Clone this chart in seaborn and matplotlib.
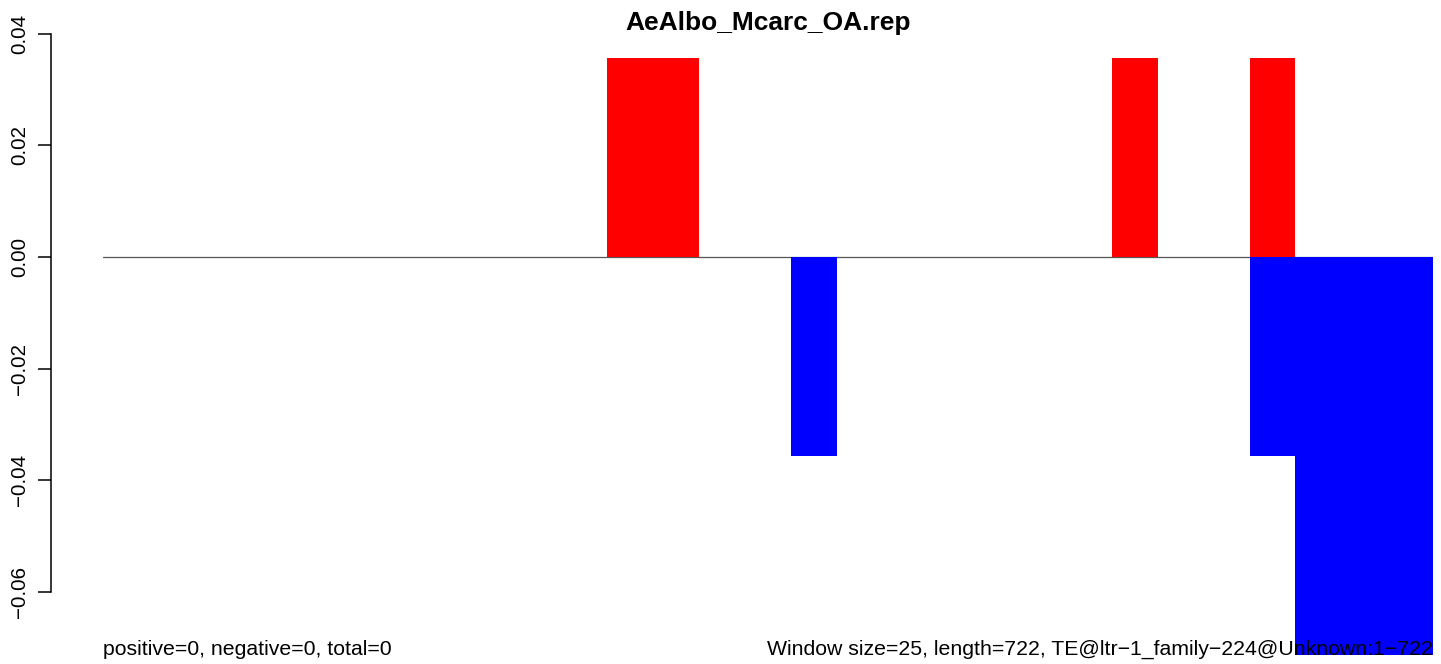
import matplotlib
matplotlib.use("Agg")
import matplotlib.pyplot as plt
import pandas as pd
import seaborn as sns

# per-window scores (window size 25 over 722 bp -> 29 windows)
windows = list(range(29))
positive = [0, 0, 0, 0, 0, 0, 0, 0, 0, 0, 0, 0.0357, 0.0357, 0, 0, 0, 0, 0, 0, 0,
            0, 0, 0.0357, 0, 0, 0.0357, 0, 0, 0]
negative = [0, 0, 0, 0, 0, 0, 0, 0, 0, 0, 0, 0, 0, 0, 0, -0.0357, 0, 0, 0, 0,
            0, 0, 0, 0, 0, -0.0357, -0.0714, -0.0714, -0.0714]
yticks = [-0.06, -0.04, -0.02, 0.00, 0.02, 0.04]

title = "AeAlbo_Mcarc_OA.rep"
left_note = "positive=0, negative=0, total=0"
right_note = "Window size=25, length=722, TE@ltr\u22121_family\u2212224@Unknown:1\u2212722"

df = pd.DataFrame({"window": windows, "pos": positive, "neg": negative})

sns.set_style("white")
plt.rcParams["font.family"] = ["Liberation Sans", "DejaVu Sans"]
plt.rcParams["text.color"] = "black"
plt.rcParams["ytick.color"] = "black"
plt.rcParams["axes.edgecolor"] = "black"

W, H = 1441, 664
fig = plt.figure(figsize=(W / 100, H / 100), dpi=100)
# plot region in pixels: x 103..1433, y top 33.8 (0.04) .. bottom 664
px_per_unit = 5580.0
y0 = 257.0
top_px = 33.8
ax = fig.add_axes([103 / W, 0, 1330 / W, (H - top_px) / H])

sns.barplot(data=df, x="window", y="pos", color="#ff0000", width=1, saturation=1,
            linewidth=0, errorbar=None, ax=ax)
sns.barplot(data=df, x="window", y="neg", color="#0000ff", width=1, saturation=1,
            linewidth=0, errorbar=None, ax=ax)

ax.set_xlim(-0.5, len(windows) - 0.5)
ax.set_ylim(-(H - y0) / px_per_unit, (y0 - top_px) / px_per_unit)
ax.axhline(0, color="#555555", linewidth=0.9, zorder=0.5)

for s in ["top", "right", "bottom"]:
    ax.spines[s].set_visible(False)
ax.spines["left"].set_position(("axes", -52 / 1330))
ax.spines["left"].set_bounds(yticks[0], yticks[-1])
ax.spines["left"].set_linewidth(1.1)
ax.set_yticks(yticks)
ax.set_yticklabels([f"{v:.2f}".replace("-", "\u2212") for v in yticks],
                   rotation=90, va="center", fontsize=14.8, color="black")
ax.tick_params(axis="y", length=9.5, width=1.1, pad=6.5, left=True)
ax.set_xticks([])
ax.set_xlabel("")
ax.set_ylabel("")

fig.text(768 / W, 1 - 23 / H, title, ha="center", va="center",
         fontsize=19, fontweight="bold")
fig.text(103 / W, 1 - 655 / H, left_note, ha="left", va="baseline", fontsize=15.3)
fig.text(1433 / W, 1 - 655 / H, right_note, ha="right", va="baseline",
         fontsize=15.3, zorder=10)

fig.savefig("out.png", dpi=100)
